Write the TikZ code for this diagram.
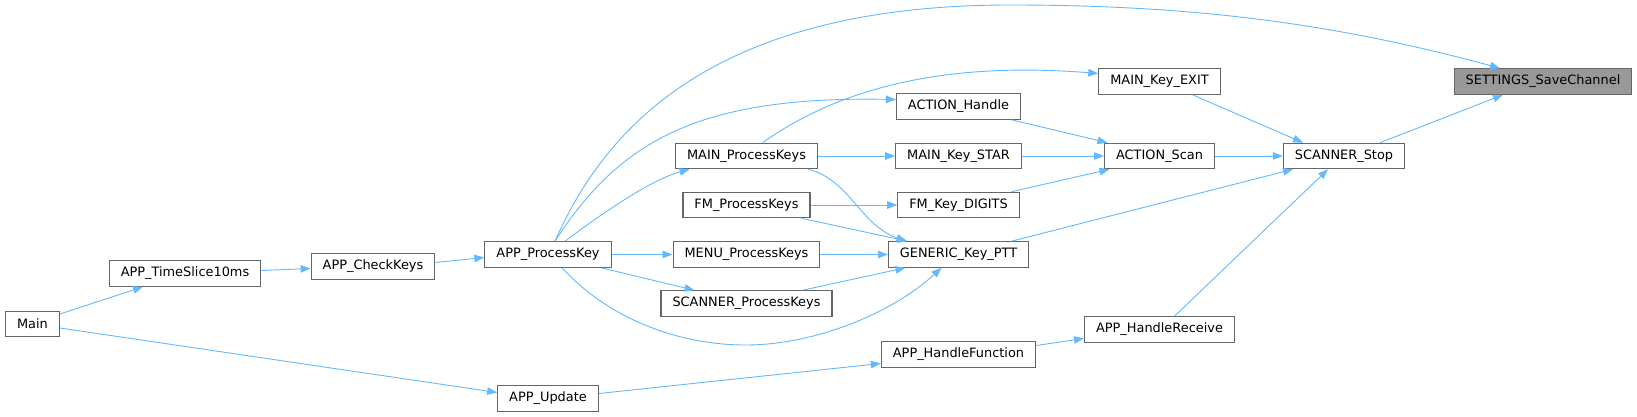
\documentclass[tikz,border=0pt]{standalone}
\usepackage{fontspec}
\setmainfont{DejaVu Sans}
\usepackage{tikz}
\usetikzlibrary{arrows.meta,positioning}
\definecolor{calledge}{HTML}{63B8FF}
\definecolor{fnborder}{HTML}{666666}
\definecolor{fnroot}{HTML}{999999}
\tikzstyle{fn} = [draw=fnborder, line width=1.1pt, fill=white, minimum height=25.5pt, inner xsep=11.5pt, inner ysep=0pt, font=\fontsize{12.9}{14}\selectfont]
\tikzstyle{call} = [-{Triangle[length=10pt,width=7.5pt]}, line width=0.9pt, calledge]

\begin{document}
\begin{tikzpicture}[x=1pt, y=-1pt]
\useasboundingbox (0,0) rectangle (1637,417);

% functions, one column per rank
\node[fn, fill=fnroot] (save) at (1543,81.5) {SETTINGS\_SaveChannel};
\node[fn] (stop) at (1344,156) {SCANNER\_Stop};
\node[fn] (exit) at (1159.5,81.5) {MAIN\_Key\_EXIT};
\node[fn] (scan) at (1159.5,156) {ACTION\_Scan};
\node[fn] (recv) at (1159.5,329.5) {APP\_HandleReceive};
\node[fn] (handle) at (958.5,106.5) {ACTION\_Handle};
\node[fn] (star) at (958.5,156) {MAIN\_Key\_STAR};
\node[fn] (digits) at (958.5,205) {FM\_Key\_DIGITS};
\node[fn] (ptt) at (958.5,254.5) {GENERIC\_Key\_PTT};
\node[fn] (hfunc) at (958.5,354.5) {APP\_HandleFunction};
\node[fn] (mpk) at (746.5,156) {MAIN\_ProcessKeys};
\node[fn] (fmpk) at (746.5,205) {FM\_ProcessKeys};
\node[fn] (menu) at (746.5,254.5) {MENU\_ProcessKeys};
\node[fn] (spk) at (746.5,303.5) {SCANNER\_ProcessKeys};
\node[fn] (apk) at (548,254.5) {APP\_ProcessKey};
\node[fn] (update) at (548,398.5) {APP\_Update};
\node[fn] (ck) at (373,266.5) {APP\_CheckKeys};
\node[fn] (ts) at (185,273.5) {APP\_TimeSlice10ms};
\node[fn] (main) at (32.5,324) {Main};

% calls
\draw[call] ([xshift=36pt]stop.north) -- ([xshift=-40pt]save.south);
\draw[call] ([xshift=7pt]apk.north) .. controls (600,140) and (700,5) .. (1010,5)
  .. controls (1200,5) and (1340,25) .. ([xshift=-43pt]save.north);
\draw[call] ([xshift=33pt]exit.south) -- ([xshift=-41pt]stop.north);
\draw[call] (scan) -- (stop);
\draw[call] ([xshift=53pt]ptt.north) -- ([xshift=-51pt]stop.south);
\draw[call] ([xshift=15pt]recv.north) -- ([xshift=-16pt]stop.south);
\draw[call] ([xshift=53pt]handle.south) -- ([xshift=-52pt]scan.north);
\draw[call] (star) -- (scan);
\draw[call] ([xshift=53pt]digits.north) -- ([xshift=-50pt]scan.south);
\draw[call] ([xshift=16pt]mpk.north) .. controls (830,95) and (930,60) .. ([yshift=8pt]exit.west);
\draw[call] ([xshift=7pt]apk.north) .. controls (620,140) and (700,96) .. ([yshift=7pt]handle.west);
\draw[call] (mpk) -- (star);
\draw[call] ([xshift=62pt]mpk.south) .. controls (850,180) and (860,225) .. ([xshift=-52pt]ptt.north);
\draw[call] (fmpk) -- (digits);
\draw[call] ([xshift=55pt]fmpk.south) -- ([xshift=-51pt]ptt.north);
\draw[call] (menu) -- (ptt);
\draw[call] ([xshift=56pt]spk.north) -- ([xshift=-53pt]ptt.south);
\draw[call] ([xshift=17pt]apk.north) .. controls (600,215) and (650,180) .. ([xshift=-57pt]mpk.south);
\draw[call] (apk) -- (menu);
\draw[call] ([xshift=53pt]apk.south) -- ([xshift=-52pt]spk.north);
\draw[call] ([xshift=14pt]apk.south) .. controls (610,320) and (680,345) .. (746,345)
  .. controls (812,345) and (890,315) .. ([xshift=-17pt]ptt.south);
\draw[call] ([yshift=4pt]ck.east) -- ([yshift=-3pt]apk.west);
\draw[call] ([yshift=3pt]ts.east) -- ([yshift=-2pt]ck.west);
\draw[call] ([yshift=10pt]main.east) -- ([xshift=-42pt]ts.south);
\draw[call] ([yshift=-4pt]main.east) -- ([yshift=6pt]update.west);
\draw[call] ([yshift=5pt]update.east) -- ([yshift=-9pt]hfunc.west);
\draw[call] ([yshift=9pt]hfunc.east) -- ([yshift=-9pt]recv.west);
\end{tikzpicture}
\end{document}
